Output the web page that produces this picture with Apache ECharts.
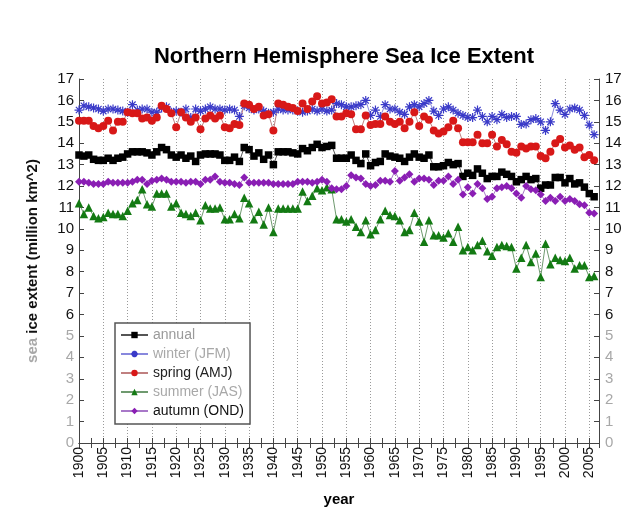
<!DOCTYPE html>
<html><head><meta charset="utf-8">
<script src="https://cdn.jsdelivr.net/npm/echarts@6/dist/echarts.min.js"></script>
<style>html,body{margin:0;padding:0;background:#fff}#c{width:640px;height:521px}</style>
</head><body><div id="c"></div>
<script>
const years = [];
for (let y = 1900; y <= 2006; y++) years.push(y);

const annual = [
13.45,13.4,13.45,13.25,13.2,13.2,13.3,13.2,13.3,13.35,
13.5,13.6,13.6,13.6,13.55,13.45,13.6,13.8,13.7,13.45,
13.35,13.45,13.3,13.4,13.15,13.45,13.5,13.5,13.5,13.45,
13.2,13.2,13.35,13.15,13.8,13.7,13.4,13.55,13.25,13.45,
13.0,13.6,13.6,13.6,13.55,13.5,13.75,13.65,13.8,13.95,
13.8,13.85,13.9,13.3,13.3,13.3,13.45,13.2,13.05,13.5,
12.95,13.1,13.15,13.5,13.4,13.35,13.3,13.15,13.35,13.5,
13.35,13.3,13.45,12.9,12.9,12.95,13.1,13.0,13.05,12.45,
12.6,12.5,12.8,12.6,12.35,12.45,12.45,12.65,12.55,12.45,
12.2,12.3,12.45,12.3,12.35,11.9,12.05,12.05,12.4,12.4,
12.15,12.35,12.1,12.15,11.95,11.65,11.5];

const winter = [
15.55,15.75,15.7,15.65,15.6,15.5,15.6,15.6,15.55,15.5,
15.45,15.8,15.55,15.6,15.6,15.45,15.45,15.65,15.7,15.45,
15.5,15.45,15.6,15.2,15.6,15.5,15.6,15.7,15.6,15.6,
15.55,15.6,15.55,15.25,15.75,15.65,15.55,15.6,15.5,15.4,
15.45,15.6,15.55,15.55,15.55,15.5,15.45,15.5,15.6,15.5,
15.6,15.5,15.55,15.85,15.8,15.7,15.7,15.75,15.8,16.0,
15.3,15.55,15.25,15.8,15.6,15.6,15.45,15.35,15.7,15.8,
15.7,15.85,16.0,15.5,15.3,15.6,15.7,15.55,15.4,15.3,
15.2,15.2,15.55,15.25,15.0,15.25,15.1,15.35,15.2,15.25,
15.25,14.88,14.9,15.1,15.15,15.0,14.6,15.0,15.85,15.55,
15.35,15.6,15.65,15.55,15.3,14.85,14.4];

const spring = [
15.05,15.05,15.05,14.8,14.7,14.8,15.05,14.6,15.0,15.0,
15.45,15.4,15.4,15.15,15.2,15.05,15.2,15.75,15.6,15.4,
14.75,15.45,15.2,15.0,15.2,14.65,15.15,15.3,15.15,15.3,
14.75,14.7,14.9,14.85,15.85,15.8,15.6,15.7,15.3,15.35,
14.6,15.85,15.8,15.7,15.65,15.5,15.85,15.6,15.95,16.2,
15.85,15.9,16.05,15.25,15.25,15.4,15.35,14.65,14.65,15.3,
14.85,14.9,14.9,15.25,15.0,14.9,15.0,14.7,15.0,15.45,
14.8,15.25,15.1,14.6,14.45,14.55,14.75,15.05,14.7,14.05,
14.05,14.05,14.4,14.0,14.0,14.4,13.85,14.15,13.95,13.6,
13.55,13.85,13.75,13.85,13.85,13.4,13.3,13.6,14.0,14.2,
13.8,13.9,13.7,13.8,13.35,13.45,13.2];

const summer = [
11.2,10.7,11.0,10.6,10.5,10.55,10.75,10.7,10.7,10.6,
10.85,11.2,11.35,11.85,11.15,11.05,11.65,11.65,11.65,11.05,
11.2,10.75,10.7,10.6,10.75,10.4,11.1,10.95,10.95,11.0,
10.45,10.45,10.7,10.5,11.45,11.2,10.45,10.8,10.2,11.0,
9.85,10.95,10.95,10.95,10.95,10.95,11.75,11.3,11.55,11.9,
11.8,11.95,11.85,10.45,10.45,10.35,10.45,10.1,9.85,10.4,
9.75,9.95,10.45,10.85,10.65,10.6,10.4,9.85,9.95,10.75,
10.35,9.4,10.4,9.7,9.7,9.6,9.8,9.4,10.1,9.0,
9.15,9.0,9.25,9.45,8.95,8.75,9.15,9.25,9.2,9.15,
8.15,8.65,9.25,8.45,8.85,7.75,9.3,8.35,8.65,8.55,
8.5,8.65,8.15,8.3,8.3,7.75,7.8];

const autumn = [
12.2,12.2,12.15,12.1,12.1,12.1,12.2,12.15,12.15,12.15,
12.15,12.2,12.3,12.3,12.1,12.25,12.3,12.35,12.3,12.2,
12.2,12.2,12.15,12.2,12.2,12.1,12.3,12.3,12.45,12.2,
12.15,12.15,12.1,12.05,12.4,12.15,12.15,12.15,12.15,12.15,
12.1,12.1,12.1,12.1,12.1,12.2,12.2,12.2,12.15,12.2,
12.3,12.2,11.9,11.85,11.85,12.0,12.5,12.4,12.35,12.1,
12.0,12.05,12.25,12.25,12.2,12.7,12.25,12.4,12.55,12.2,
12.35,12.35,12.3,12.05,12.25,12.25,12.45,12.1,12.3,11.6,
11.95,11.65,12.1,11.9,11.4,11.5,11.9,11.95,12.0,11.9,
11.65,11.45,12.0,11.85,11.8,11.6,11.3,11.45,11.3,11.5,
11.3,11.4,11.3,11.15,11.1,10.75,10.72];

const seriesNames = ['annual', 'winter (JFM)', 'spring (AMJ)', 'summer (JAS)', 'autumn (OND)'];
const yTicks = [0, 17, 1];

const FONT = "'Liberation Sans', Arial, Helvetica, sans-serif";
const starPath = 'path://M-5,0L5,0M0,-5L0,5M-3.5,-3.5L3.5,3.5M-3.5,3.5L3.5,-3.5';

function pairs(arr) { return arr.map((v, i) => [years[i], v]); }

function mk(name, data, symbol, size, color, lineColor, extra) {
  return Object.assign({
    name: name, type: 'line', data: pairs(data),
    symbol: symbol, symbolSize: size, showSymbol: true,
    itemStyle: { color: color },
    lineStyle: { color: lineColor, width: 1 },
    emphasis: { disabled: true }, animation: false
  }, extra || {});
}

const chart = echarts.init(document.getElementById('c'), null, { renderer: 'canvas' });

const yLabel = {
  fontSize: 15, fontFamily: FONT,
  formatter: v => (v <= 5 ? '{g|' + v + '}' : '{k|' + v + '}'),
  rich: { g: { color: '#a8a8a8', fontSize: 15, fontFamily: FONT }, k: { color: '#111', fontSize: 15, fontFamily: FONT } }
};

const axisLineStyle = { color: '#444', width: 1 };

chart.setOption({
  backgroundColor: '#fff',
  animation: false,
  textStyle: { fontFamily: FONT },
  title: {
    text: 'Northern Hemisphere Sea Ice Extent',
    left: 339, top: 41, textAlign: 'center',
    textStyle: { fontSize: 22, fontWeight: 'bold', color: '#000', fontFamily: FONT }
  },
  grid: { left: 79, right: 41, top: 79, bottom: 78, containLabel: false },
  legend: {
    orient: 'vertical', left: 115, top: 323,
    backgroundColor: '#fff', borderColor: '#555', borderWidth: 1.5,
    padding: [5, 6, 6, 5], itemWidth: 27, itemHeight: 8, itemGap: 5,
    textStyle: { fontSize: 14, lineHeight: 14, fontFamily: FONT },
    data: [
      { name: seriesNames[0], textStyle: { color: '#9a9a9a' } },
      { name: seriesNames[1], textStyle: { color: '#a8a8a8' } },
      { name: seriesNames[2], textStyle: { color: '#222' } },
      { name: seriesNames[3], textStyle: { color: '#a8a8a8' } },
      { name: seriesNames[4], textStyle: { color: '#111' } }
    ]
  },
  xAxis: [
    {
      type: 'value', min: 1900, max: 2007, interval: 5, position: 'bottom',
      name: 'year', nameLocation: 'middle', nameGap: 49,
      nameTextStyle: { fontSize: 15, fontWeight: 'bold', color: '#000', fontFamily: FONT },
      axisLine: { show: true, lineStyle: axisLineStyle },
      axisTick: { show: true, inside: true, length: 5, lineStyle: axisLineStyle },
      minorTick: { show: true, splitNumber: 2, length: 5, lineStyle: axisLineStyle },
      splitLine: { show: true, lineStyle: { color: '#9a9a9a', type: [1, 2], width: 1 } },
      axisLabel: { rotate: 90, fontSize: 14, color: '#111', margin: 4, showMaxLabel: false, fontFamily: FONT,
                   formatter: v => String(v) }
    },
    {
      type: 'value', min: 1900, max: 2007, interval: 5, position: 'top',
      axisLine: { show: true, lineStyle: axisLineStyle },
      axisTick: { show: true, inside: true, length: 5, lineStyle: axisLineStyle },
      minorTick: { show: true, splitNumber: 2, length: 5, lineStyle: axisLineStyle },
      splitLine: { show: false }, axisLabel: { show: false }
    }
  ],
  yAxis: [
    {
      type: 'value', min: yTicks[0], max: yTicks[1], interval: yTicks[2], position: 'left',
      name: '{g|sea} {k|ice extent (million km^2)}', nameLocation: 'middle', nameGap: 39,
      nameTextStyle: {
        fontSize: 15, fontWeight: 'bold', fontFamily: FONT,
        rich: { g: { color: '#a8a8a8', fontSize: 15, fontWeight: 'bold', fontFamily: FONT },
                k: { color: '#111', fontSize: 15, fontWeight: 'bold', fontFamily: FONT } }
      },
      axisLine: { show: true, lineStyle: axisLineStyle },
      axisTick: { show: true, inside: true, length: 5, lineStyle: axisLineStyle },
      splitLine: { show: false },
      axisLabel: Object.assign({ margin: 5 }, yLabel)
    },
    {
      type: 'value', min: yTicks[0], max: yTicks[1], interval: yTicks[2], position: 'right',
      axisLine: { show: true, lineStyle: axisLineStyle },
      axisTick: { show: true, inside: true, length: 5, lineStyle: axisLineStyle },
      splitLine: { show: false },
      axisLabel: Object.assign({ margin: 6 }, yLabel)
    }
  ],
  series: [
    mk(seriesNames[0], annual, 'rect', 7.5, '#000', '#555'),
    mk(seriesNames[1], winter, starPath, 9, '#3a3ac8', '#8888dd',
       { itemStyle: { color: '#3a3ac8', borderColor: '#3a3ac8', borderWidth: 1.2 } }),
    mk(seriesNames[2], spring, 'circle', 8, '#d81818', '#c08080'),
    mk(seriesNames[3], summer, 'triangle', 8.5, '#137a13', '#6f9a6f'),
    mk(seriesNames[4], autumn, 'diamond', 8, '#8a1eb4', '#a878c8')
  ]
});
</script></body></html>
